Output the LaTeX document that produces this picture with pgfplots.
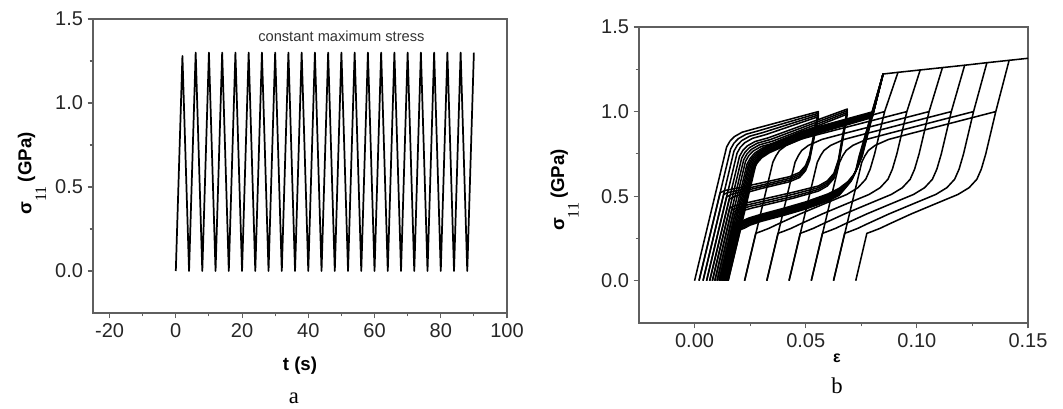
\documentclass[border=0pt]{standalone}
\usepackage{pgfplots}
\pgfplotsset{compat=1.18}
\usepackage{fontspec}
\setmainfont{Liberation Sans}
\newfontfamily\serif{Liberation Serif}
\definecolor{axisgray}{RGB}{95,95,95}
\begin{document}
\begin{tikzpicture}
\useasboundingbox (0pt,0pt) rectangle (797.25pt,306pt);
\pgfplotsset{
 myaxis/.style={
  scale only axis,
  axis line style={draw=axisgray, line width=0.8pt},
  tick align=outside, tick pos=left,
  major tick length=4pt, minor tick length=2.5pt,
  every tick/.style={draw=axisgray, line width=0.8pt},
  minor x tick num=1, minor y tick num=1,
  tick label style={font=\fontsize{15}{18}\selectfont, text=black!85, /pgf/number format/assume math mode=true},
  ymin=-0.25, ymax=1.5, ytick={0,0.5,1,1.5},
  yticklabel style={/pgf/number format/.cd, fixed, fixed zerofill, precision=1},
  scaled ticks=false,
  clip=true,
 },
 cyc/.style={black, line width=1.15pt, line join=round, no marks},
}
% ---------------- panel a ----------------
\begin{axis}[myaxis, at={(69.75pt,71.25pt)}, anchor=south west, width=310.5pt, height=220.5pt,
  xmin=-25, xmax=100, xtick={-20,0,20,40,60,80,100}]
\addplot[black, line width=1.3pt, line join=round, no marks] coordinates {
(0,0)(2,1.28)(4,0)(6,1.3)(8,0)(10,1.3)(12,0)(14,1.3)(16,0)(18,1.3)(20,0)(22,1.3)(24,0)(26,1.3)(28,0)(30,1.3)(32,0)(34,1.3)(36,0)(38,1.3)(40,0)(42,1.3)(44,0)(46,1.3)(48,0)(50,1.3)(52,0)(54,1.3)(56,0)(58,1.3)(60,0)(62,1.3)(64,0)(66,1.3)(68,0)(70,1.3)(72,0)(74,1.3)(76,0)(78,1.3)(80,0)(82,1.3)(84,0)(86,1.3)(88,0)(90,1.3)};
\node[font=\fontsize{11}{13}\selectfont, text=black!80] at (axis cs:50,1.4) {constant maximum stress};
\end{axis}
% ---------------- panel b ----------------
\begin{axis}[myaxis, at={(479.25pt,63.75pt)}, anchor=south west, width=291.75pt, height=222pt,
  xmin=-0.025, xmax=0.15, xtick={0,0.05,0.1,0.15},
  xticklabel style={/pgf/number format/.cd, fixed, fixed zerofill, precision=2}]
% early thin cycles
\addplot[cyc] coordinates {(0,0)(0.0144,0.79)(0.0159,0.825)(0.0179,0.852)(0.0214,0.878)(0.0274,0.90)(0.0557,1.0)(0.0517,0.74)(0.0499,0.68)(0.0472,0.64)(0.0427,0.615)(0.030,0.578)(0.020,0.55)(0.0136,0.533)(0.0115,0.52)(0.002,0)};
\addplot[cyc] coordinates {(0.002,0)(0.0162,0.778)(0.0177,0.813)(0.0197,0.84)(0.0232,0.866)(0.0292,0.888)(0.0557,0.99)(0.0517,0.73)(0.0499,0.67)(0.0472,0.63)(0.0427,0.605)(0.030,0.565)(0.020,0.535)(0.0151,0.522)(0.0131,0.51)(0.0038,0)};
\addplot[cyc] coordinates {(0.0038,0)(0.0177,0.766)(0.0192,0.801)(0.0212,0.828)(0.0247,0.854)(0.0307,0.876)(0.0557,0.98)(0.0517,0.72)(0.0499,0.66)(0.0472,0.62)(0.0427,0.595)(0.030,0.555)(0.022,0.53)(0.0165,0.51)(0.0144,0.495)(0.0054,0)};
\addplot[cyc] coordinates {(0.0054,0)(0.0191,0.754)(0.0206,0.789)(0.0226,0.816)(0.0261,0.842)(0.0321,0.864)(0.0557,0.97)(0.0517,0.71)(0.0499,0.65)(0.0472,0.61)(0.0427,0.585)(0.030,0.545)(0.023,0.52)(0.0177,0.497)(0.0156,0.482)(0.0068,0)};
\addplot[cyc] coordinates {(0.0068,0)(0.0202,0.735)(0.0217,0.77)(0.0237,0.797)(0.0272,0.823)(0.0332,0.845)(0.0687,1.015)(0.0647,0.715)(0.0627,0.635)(0.0597,0.59)(0.0557,0.56)(0.045,0.525)(0.035,0.495)(0.025,0.465)(0.0185,0.445)(0.0158,0.43)(0.008,0)};
\addplot[cyc] coordinates {(0.008,0)(0.0212,0.725)(0.0227,0.76)(0.0247,0.787)(0.0282,0.813)(0.0342,0.835)(0.0687,1.005)(0.0647,0.705)(0.0627,0.625)(0.0597,0.58)(0.0557,0.55)(0.045,0.513)(0.035,0.482)(0.025,0.452)(0.0192,0.432)(0.0167,0.418)(0.0091,0)};
\addplot[cyc] coordinates {(0.0091,0)(0.0221,0.715)(0.0236,0.75)(0.0256,0.777)(0.0291,0.803)(0.0351,0.825)(0.0687,0.995)(0.0647,0.695)(0.0627,0.615)(0.0597,0.57)(0.0557,0.54)(0.045,0.50)(0.035,0.47)(0.025,0.44)(0.0198,0.42)(0.0175,0.405)(0.0101,0)};
\addplot[cyc] coordinates {(0.0101,0)(0.0229,0.705)(0.0244,0.74)(0.0264,0.767)(0.0299,0.793)(0.0359,0.815)(0.0687,0.985)(0.0647,0.685)(0.0627,0.605)(0.0597,0.56)(0.0557,0.53)(0.045,0.49)(0.035,0.458)(0.026,0.43)(0.0205,0.41)(0.0182,0.395)(0.011,0)};
% thick stabilised cycles
\addplot[cyc] coordinates {(0.011,0)(0.0236,0.69)(0.0251,0.725)(0.0271,0.755)(0.0306,0.785)(0.0366,0.82)(0.0486,0.885)(0.0805,1.0)(0.0848,1.222)(0.0754,0.735)(0.0738,0.686)(0.0718,0.631)(0.069,0.586)(0.065,0.546)(0.06,0.513)(0.05,0.466)(0.04,0.428)(0.03,0.393)(0.0245,0.371)(0.0215,0.354)(0.0179,0.343)(0.0117,0)};
\addplot[cyc] coordinates {(0.0117,0)(0.0242,0.686)(0.0257,0.721)(0.0277,0.751)(0.0312,0.781)(0.0372,0.816)(0.0492,0.881)(0.0804,0.995)(0.0848,1.222)(0.0752,0.735)(0.0736,0.68)(0.0716,0.625)(0.0688,0.58)(0.065,0.54)(0.06,0.507)(0.05,0.46)(0.04,0.422)(0.03,0.387)(0.0245,0.365)(0.0215,0.348)(0.0184,0.337)(0.0123,0)};
\addplot[cyc] coordinates {(0.0123,0)(0.0247,0.682)(0.0262,0.717)(0.0282,0.747)(0.0317,0.777)(0.0377,0.812)(0.0497,0.877)(0.0803,0.99)(0.0848,1.222)(0.075,0.735)(0.0734,0.674)(0.0714,0.619)(0.0686,0.574)(0.065,0.534)(0.06,0.501)(0.05,0.454)(0.04,0.416)(0.03,0.381)(0.0245,0.359)(0.0215,0.342)(0.0189,0.331)(0.0129,0)};
\addplot[cyc] coordinates {(0.0129,0)(0.0252,0.678)(0.0267,0.713)(0.0287,0.743)(0.0322,0.773)(0.0382,0.808)(0.0502,0.873)(0.0802,0.985)(0.0848,1.222)(0.0748,0.735)(0.0732,0.668)(0.0712,0.613)(0.0684,0.568)(0.065,0.528)(0.06,0.495)(0.05,0.448)(0.04,0.41)(0.03,0.375)(0.0245,0.353)(0.0215,0.336)(0.0193,0.325)(0.0134,0)};
\addplot[cyc] coordinates {(0.0134,0)(0.0257,0.674)(0.0272,0.709)(0.0292,0.739)(0.0327,0.769)(0.0387,0.804)(0.0507,0.869)(0.0801,0.98)(0.0848,1.222)(0.0746,0.735)(0.073,0.662)(0.071,0.607)(0.0682,0.562)(0.065,0.522)(0.06,0.489)(0.05,0.442)(0.04,0.404)(0.03,0.369)(0.0245,0.347)(0.0217,0.33)(0.0197,0.319)(0.0139,0)};
\addplot[cyc] coordinates {(0.0139,0)(0.0261,0.67)(0.0276,0.705)(0.0296,0.735)(0.0331,0.765)(0.0391,0.80)(0.0511,0.865)(0.0800,0.975)(0.0848,1.222)(0.0744,0.735)(0.0728,0.656)(0.0708,0.601)(0.068,0.556)(0.065,0.516)(0.06,0.483)(0.05,0.436)(0.04,0.398)(0.03,0.363)(0.0245,0.341)(0.022,0.324)(0.02,0.313)(0.0143,0)};
\addplot[cyc] coordinates {(0.0143,0)(0.0264,0.666)(0.0279,0.701)(0.0299,0.731)(0.0334,0.761)(0.0394,0.796)(0.0514,0.861)(0.0800,0.97)(0.0848,1.222)(0.0742,0.735)(0.0726,0.65)(0.0706,0.595)(0.0678,0.55)(0.065,0.51)(0.06,0.477)(0.05,0.43)(0.04,0.392)(0.03,0.357)(0.0248,0.335)(0.0223,0.318)(0.0203,0.307)(0.0147,0)};
\addplot[cyc] coordinates {(0.0147,0)(0.0267,0.662)(0.0282,0.697)(0.0302,0.727)(0.0337,0.757)(0.0397,0.792)(0.0517,0.857)(0.0799,0.965)(0.0848,1.222)(0.074,0.735)(0.0724,0.644)(0.0704,0.589)(0.0676,0.544)(0.065,0.504)(0.06,0.471)(0.05,0.424)(0.04,0.386)(0.03,0.351)(0.025,0.329)(0.0226,0.312)(0.0206,0.301)(0.0151,0)};
% later cycles with growing strain
\addplot[cyc] coordinates {(0.0151,0)(0.0278,0.70)(0.0293,0.74)(0.0308,0.77)(0.0338,0.80)(0.0398,0.835)(0.0498,0.87)(0.0855,1.0)(0.0915,1.232)(0.0855,1.0)(0.081,0.75)(0.079,0.66)(0.077,0.60)(0.0735,0.55)(0.0685,0.51)(0.0575,0.45)(0.0475,0.395)(0.0375,0.335)(0.0335,0.31)(0.030,0.292)(0.0275,0.28)(0.0225,0)};
\addplot[cyc] coordinates {(0.0225,0)(0.0352,0.70)(0.0367,0.74)(0.0382,0.77)(0.0412,0.80)(0.0472,0.835)(0.0572,0.87)(0.0955,1.0)(0.1015,1.246)(0.0955,1.0)(0.091,0.75)(0.089,0.66)(0.087,0.60)(0.0835,0.55)(0.0785,0.51)(0.0675,0.45)(0.0575,0.395)(0.0475,0.335)(0.0435,0.31)(0.040,0.292)(0.0375,0.28)(0.0325,0)};
\addplot[cyc] coordinates {(0.0325,0)(0.0452,0.70)(0.0467,0.74)(0.0482,0.77)(0.0512,0.80)(0.0572,0.835)(0.0672,0.87)(0.1055,1.0)(0.1115,1.26)(0.1055,1.0)(0.101,0.75)(0.099,0.66)(0.097,0.60)(0.0935,0.55)(0.0885,0.51)(0.0775,0.45)(0.0675,0.395)(0.0575,0.335)(0.0535,0.31)(0.050,0.292)(0.0475,0.28)(0.0425,0)};
\addplot[cyc] coordinates {(0.0425,0)(0.0552,0.70)(0.0567,0.74)(0.0582,0.77)(0.0612,0.80)(0.0672,0.835)(0.0772,0.87)(0.1155,1.0)(0.1215,1.274)(0.1155,1.0)(0.111,0.75)(0.109,0.66)(0.107,0.60)(0.1035,0.55)(0.0985,0.51)(0.0875,0.45)(0.0775,0.395)(0.0675,0.335)(0.0635,0.31)(0.060,0.292)(0.0575,0.28)(0.0525,0)};
\addplot[cyc] coordinates {(0.0525,0)(0.0652,0.70)(0.0667,0.74)(0.0682,0.77)(0.0712,0.80)(0.0772,0.835)(0.0872,0.87)(0.1255,1.0)(0.1315,1.289)(0.1255,1.0)(0.121,0.75)(0.119,0.66)(0.117,0.60)(0.1135,0.55)(0.1085,0.51)(0.0975,0.45)(0.0875,0.395)(0.0775,0.335)(0.0735,0.31)(0.070,0.292)(0.0675,0.28)(0.0625,0)};
\addplot[cyc] coordinates {(0.0625,0)(0.0752,0.70)(0.0767,0.74)(0.0782,0.77)(0.0812,0.80)(0.0872,0.835)(0.0972,0.87)(0.1355,1.0)(0.1415,1.303)(0.1355,1.0)(0.131,0.75)(0.129,0.66)(0.127,0.60)(0.1235,0.55)(0.1185,0.51)(0.1075,0.45)(0.0975,0.395)(0.0875,0.335)(0.0835,0.31)(0.080,0.292)(0.0775,0.28)(0.0725,0)};
% upper envelope
\addplot[cyc] coordinates {(0.0848,1.222)(0.0915,1.232)(0.1015,1.246)(0.1115,1.26)(0.1215,1.274)(0.1315,1.289)(0.1415,1.303)(0.15,1.315)};
\end{axis}
% ---------------- labels ----------------
\node[font=\bfseries\fontsize{14}{16}\selectfont] at (225pt,31.5pt) {t (s)};
\node[font=\serif\fontsize{17}{19}\selectfont] at (220.5pt,7.5pt) {a};
\node[rotate=90, anchor=base, font=\fontsize{14}{16}\selectfont] at (23.5pt,176pt) {\textbf{σ}\raisebox{-11pt}{\serif\fontsize{12}{14}\selectfont 11}\hspace{3pt}\textbf{(GPa)}};
\node[font=\bfseries\fontsize{12}{14}\selectfont] at (627.75pt,37pt) {ε};
\node[font=\serif\fontsize{17}{19}\selectfont] at (627.75pt,17pt) {b};
\node[rotate=90, anchor=base, font=\fontsize{14}{16}\selectfont] at (423pt,163.5pt) {\textbf{σ}\raisebox{-11pt}{\serif\fontsize{12}{14}\selectfont 11}\hspace{3pt}\textbf{(GPa)}};
\end{tikzpicture}
\end{document}
